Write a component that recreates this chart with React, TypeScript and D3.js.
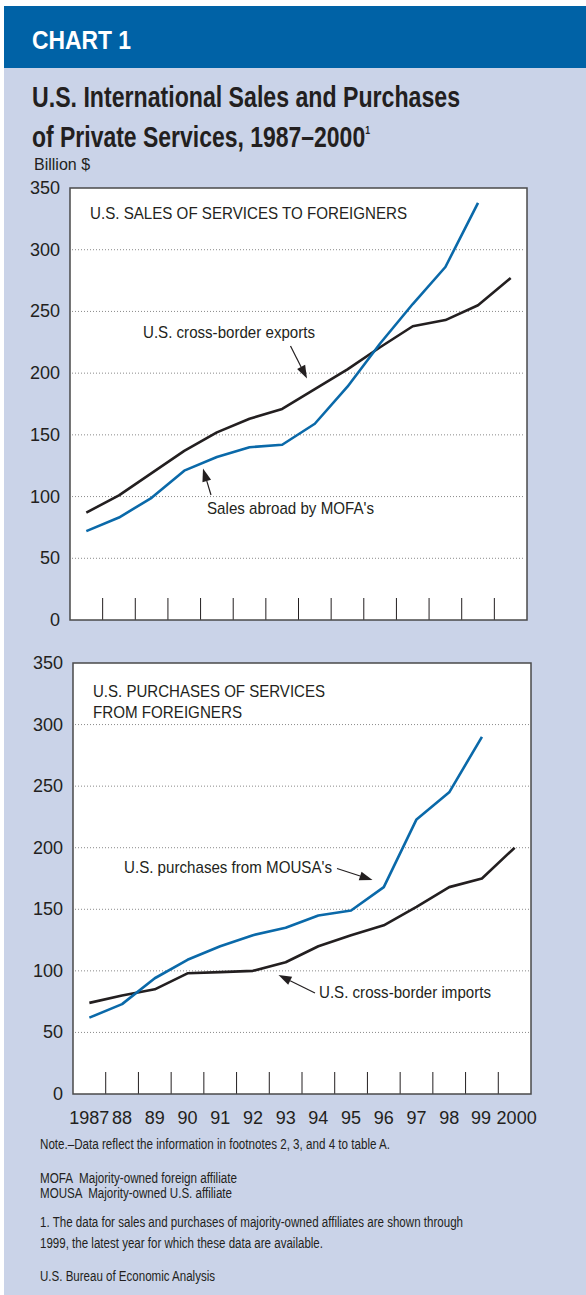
import React from 'react';
import * as d3 from 'd3';

const width = 586;
const height = 1295;

const blue = '#0062a6';
const panelBg = '#cad3e8';
const lineBlue = '#0a69a9';
const ink = '#231f20';
const narrow = '"Liberation Sans Narrow", "Liberation Sans", Arial, sans-serif';
const sans = '"Liberation Sans", Arial, Helvetica, sans-serif';

// data, billion $
const years = [1987, 1988, 1989, 1990, 1991, 1992, 1993, 1994, 1995, 1996, 1997, 1998, 1999, 2000];
const yearLabels = ['1987', '88', '89', '90', '91', '92', '93', '94', '95', '96', '97', '98', '99', '2000'];
const crossBorderExports = [87, 101, 119, 137, 152, 163, 171, 187, 203, 221, 238, 243, 255, 277];
const mofaSales = [72, 83, 99, 121, 132, 140, 142, 159, 189, 224, 256, 286, 338];
const crossBorderImports = [74, 80, 85, 98, 99, 100, 107, 120, 129, 137, 152, 168, 175, 200];
const mousaPurchases = [62, 73, 94, 109, 120, 129, 135, 145, 149, 168, 223, 245, 290];
const yTicks = [0, 50, 100, 150, 200, 250, 300, 350];

type Note = { text: string; x: number; y: number; w: number };
type Arrow = { x1: number; y1: number; x2: number; y2: number };

const ArrowMark = ({ a }: { a: Arrow }) => {
  const ang = Math.atan2(a.y2 - a.y1, a.x2 - a.x1);
  const len = 13;
  const half = 4.5;
  const bx = a.x2 - len * Math.cos(ang);
  const by = a.y2 - len * Math.sin(ang);
  const px = -Math.sin(ang) * half;
  const py = Math.cos(ang) * half;
  return (
    <g>
      <line x1={a.x1} y1={a.y1} x2={bx} y2={by} stroke={ink} strokeWidth={1.2} />
      <polygon points={`${a.x2},${a.y2} ${bx + px},${by + py} ${bx - px},${by - py}`} fill={ink} />
    </g>
  );
};

const Panel = ({ left, right, top, bottom, black, blueSeries, notes, arrows, showYears }: {
  left: number; right: number; top: number; bottom: number;
  black: number[]; blueSeries: number[]; notes: Note[]; arrows: Arrow[]; showYears?: boolean;
}) => {
  const x = d3.scaleBand<number>().domain(years).range([left, right]).paddingInner(0).paddingOuter(0);
  const y = d3.scaleLinear().domain([0, 350]).range([bottom, top]);
  const cx = (i: number) => (x(years[i]) as number) + x.bandwidth() / 2;
  const line = d3.line<number>().x((_, i) => cx(i)).y((d) => y(d));
  return (
    <g>
      <rect x={left} y={top} width={right - left} height={bottom - top} fill="white" />
      {yTicks.filter((t) => t > 0 && t < 350).map((t) => (
        <line key={t} x1={left + 2} x2={right - 2} y1={y(t)} y2={y(t)}
          stroke="#8a8a8a" strokeWidth={1} strokeDasharray="1,2" />
      ))}
      {yTicks.map((t) => (
        <text key={t} x={left - 10} y={y(t) + 6} textAnchor="end" fontFamily={sans}
          fontSize={18} fill={ink}>{t}</text>
      ))}
      {years.slice(1).map((yr) => (
        <line key={yr} x1={x(yr)} x2={x(yr)} y1={bottom} y2={bottom - 22} stroke={ink} strokeWidth={1} />
      ))}
      {showYears && yearLabels.map((l, i) => (
        <text key={l} x={cx(i) + (i === 13 ? 2 : i === 12 ? -1 : 0)} y={bottom + 30} textAnchor="middle"
          fontFamily={sans} fontSize={18} fill={ink}>{l}</text>
      ))}
      <path d={line(black) || ''} fill="none" stroke={ink} strokeWidth={2.6} strokeLinejoin="round" />
      <path d={line(blueSeries) || ''} fill="none" stroke={lineBlue} strokeWidth={2.6} strokeLinejoin="round" />
      <rect x={left} y={top} width={right - left} height={bottom - top} fill="none" stroke="#4a4a4a" strokeWidth={1.5} />
      {notes.map((n) => (
        <text key={n.text} x={n.x} y={n.y} fontFamily={narrow} fontSize={17} fill={ink}
          textLength={n.w} lengthAdjust="spacingAndGlyphs">{n.text}</text>
      ))}
      {arrows.map((a, i) => <ArrowMark key={i} a={a} />)}
    </g>
  );
};

const footnotes: Note[] = [
  { text: 'Note.–Data reflect the information in footnotes 2, 3, and 4 to table A.', x: 40, y: 1149, w: 350 },
  { text: 'MOFA  Majority-owned foreign affiliate', x: 40, y: 1183, w: 197 },
  { text: 'MOUSA  Majority-owned U.S. affiliate', x: 40, y: 1198, w: 192 },
  { text: '1. The data for sales and purchases of majority-owned affiliates are shown through', x: 40, y: 1227, w: 423 },
  { text: '1999, the latest year for which these data are available.', x: 40, y: 1248, w: 283 },
  { text: 'U.S. Bureau of Economic Analysis', x: 40, y: 1281, w: 175 },
];

export default function App() {
  return (
    <svg width={width} height={height} style={{ position: 'absolute', left: 0, top: 0 }}>
      <rect x={0} y={0} width={width} height={height} fill="white" />
      <rect x={4} y={6} width={width - 4} height={height - 6} fill={panelBg} />
      <rect x={4} y={6} width={width - 4} height={62} fill={blue} />
      <text x={32} y={49} fontFamily={sans} fontWeight="bold" fontSize={25} fill="white"
        textLength={99} lengthAdjust="spacingAndGlyphs">CHART 1</text>
      <text x={32} y={107} fontFamily={narrow} fontWeight="bold" fontSize={29} fill={ink}
        textLength={428} lengthAdjust="spacingAndGlyphs">U.S. International Sales and Purchases</text>
      <text x={32} y={147} fontFamily={narrow} fontWeight="bold" fontSize={29} fill={ink}
        textLength={338} lengthAdjust="spacingAndGlyphs">
        of Private Services, 1987–2000<tspan fontSize={11} dy={-13}>1</tspan>
      </text>
      <text x={34} y={170} fontFamily={sans} fontSize={16} fill={ink}>Billion $</text>

      <Panel left={70} right={527} top={188} bottom={620}
        black={crossBorderExports} blueSeries={mofaSales}
        notes={[
          { text: 'U.S. SALES OF SERVICES TO FOREIGNERS', x: 90, y: 219, w: 317 },
          { text: 'U.S. cross-border exports', x: 143, y: 338, w: 172 },
          { text: "Sales abroad by MOFA's", x: 207, y: 514, w: 167 },
        ]}
        arrows={[
          { x1: 290.5, y1: 346, x2: 307, y2: 378.5 },
          { x1: 211, y1: 495, x2: 203, y2: 468.5 },
        ]} />

      <Panel left={73} right={531} top={663} bottom={1094} showYears
        black={crossBorderImports} blueSeries={mousaPurchases}
        notes={[
          { text: 'U.S. PURCHASES OF SERVICES', x: 93, y: 697, w: 232 },
          { text: 'FROM FOREIGNERS', x: 93, y: 718, w: 149 },
          { text: "U.S. purchases from MOUSA's", x: 124, y: 873, w: 208 },
          { text: 'U.S. cross-border imports', x: 319, y: 998, w: 172 },
        ]}
        arrows={[
          { x1: 337, y1: 868.5, x2: 372.5, y2: 880 },
          { x1: 315, y1: 993, x2: 278.5, y2: 975 },
        ]} />

      {footnotes.map((n) => (
        <text key={n.text} x={n.x} y={n.y} fontFamily={narrow} fontSize={14} fill={ink}
          textLength={n.w} lengthAdjust="spacingAndGlyphs" style={{ whiteSpace: 'pre' }}>{n.text}</text>
      ))}
    </svg>
  );
}
